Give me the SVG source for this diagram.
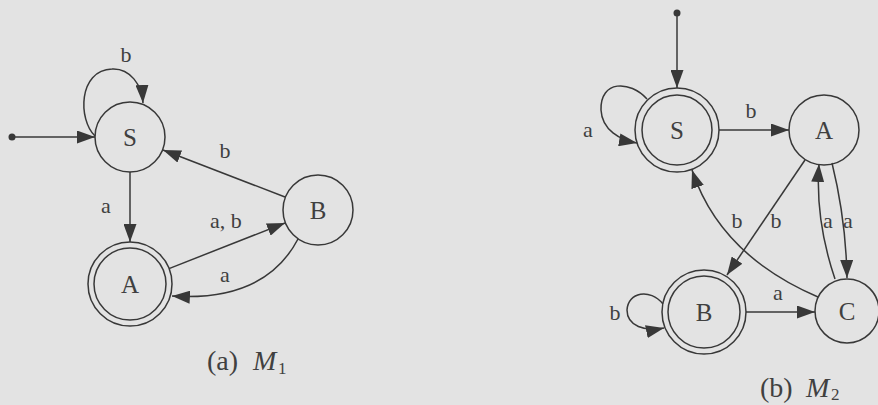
<svg xmlns="http://www.w3.org/2000/svg" width="878" height="405" viewBox="0 0 878 405">
<defs>
<style>
.bg{fill:#e3e3e3}
.st{fill:none;stroke:#383838;stroke-width:1.5}
.e{fill:none;stroke:#383838;stroke-width:1.5;marker-end:url(#ah)}
.dot{fill:#383838}
.sl{font-family:"Liberation Serif","DejaVu Serif",serif;font-size:25px;fill:#404040;text-anchor:middle}
.lb{font-family:"Liberation Serif","DejaVu Serif",serif;font-size:22px;fill:#404040;text-anchor:middle}
.cap{font-family:"Liberation Serif","DejaVu Serif",serif;font-size:28px;fill:#404040}
.capi{font-family:"Liberation Serif","DejaVu Serif",serif;font-size:28px;font-style:italic;fill:#404040}
.sub{font-family:"Liberation Serif","DejaVu Serif",serif;font-size:17px;fill:#404040}
</style>
<marker id="ah" viewBox="0 0 18 13" refX="18" refY="6.5" markerWidth="18" markerHeight="13" markerUnits="userSpaceOnUse" orient="auto">
<path d="M0,0 L18,6.5 L0,13 z" fill="#383838"/>
</marker>
</defs>
<rect class="bg" x="0" y="0" width="878" height="405"/>

<g id="connectors">
<!-- M1 -->
<circle class="dot" cx="12" cy="137" r="3.5"/>
<path class="e" d="M12,137 L95,137"/>
<path class="e" d="M95,136 C78,120 78,70 112,69 C130,68 142,85 143,103"/>
<path class="e" d="M130,172 L130,242"/>
<path class="e" d="M285,197 L163,150"/>
<path class="e" d="M169,268.6 L285,223"/>
<path class="e" d="M298,239 Q265,302 172,296"/>
<!-- M2 -->
<circle class="dot" cx="677" cy="13" r="3.5"/>
<path class="e" d="M677,13 L677,88"/>
<path class="e" d="M647,99 C630,80 600,80 601,110 C602,130 620,140 637,143"/>
<path class="e" d="M719,130 L789,130"/>
<path class="e" d="M805,160 L727,275"/>
<path class="e" d="M818,297 Q720,255 692,170"/>
<path class="e" d="M835,279 Q815,220 819,164"/>
<path class="e" d="M832,163 Q846,220 847,278"/>
<path class="e" d="M663,304 C650,288 628,292 627,310 C627,326 645,332 664,328"/>
<path class="e" d="M746,312 L815,312"/>
</g>

<g id="edge-labels">
<text class="lb" x="126" y="62">b</text>
<text class="lb" x="106" y="213">a</text>
<text class="lb" x="225" y="158">b</text>
<text class="lb" x="226" y="228">a, b</text>
<text class="lb" x="225" y="282">a</text>
<text class="lb" x="588" y="137">a</text>
<text class="lb" x="751" y="118">b</text>
<text class="lb" x="737" y="228">b</text>
<text class="lb" x="776" y="228">b</text>
<text class="lb" x="828" y="228">a</text>
<text class="lb" x="848" y="228">a</text>
<text class="lb" x="615" y="320">b</text>
<text class="lb" x="778" y="300">a</text>
</g>

<g id="M1-S"><circle class="st" cx="130" cy="137" r="35"/><text class="sl" x="130" y="146">S</text></g>
<g id="M1-A"><circle class="st" cx="130" cy="284" r="42"/><circle class="st" cx="130" cy="284" r="36"/><text class="sl" x="130" y="293">A</text></g>
<g id="M1-B"><circle class="st" cx="318" cy="210" r="35"/><text class="sl" x="318" y="219">B</text></g>

<g id="M2-S"><circle class="st" cx="677" cy="130" r="42"/><circle class="st" cx="677" cy="130" r="35"/><text class="sl" x="677" y="139">S</text></g>
<g id="M2-A"><circle class="st" cx="824" cy="130" r="35"/><text class="sl" x="824" y="139">A</text></g>
<g id="M2-B"><circle class="st" cx="704" cy="312" r="42"/><circle class="st" cx="704" cy="312" r="36"/><text class="sl" x="704" y="321">B</text></g>
<g id="M2-C"><circle class="st" cx="847" cy="311" r="32"/><text class="sl" x="847" y="320">C</text></g>

<g id="captions">
<text class="cap" x="207" y="370">(a)</text><text class="capi" x="253" y="370">M</text><text class="sub" x="278" y="374">1</text>
<text class="cap" x="760" y="397">(b)</text><text class="capi" x="806" y="397">M</text><text class="sub" x="831" y="400">2</text>
</g>
</svg>
